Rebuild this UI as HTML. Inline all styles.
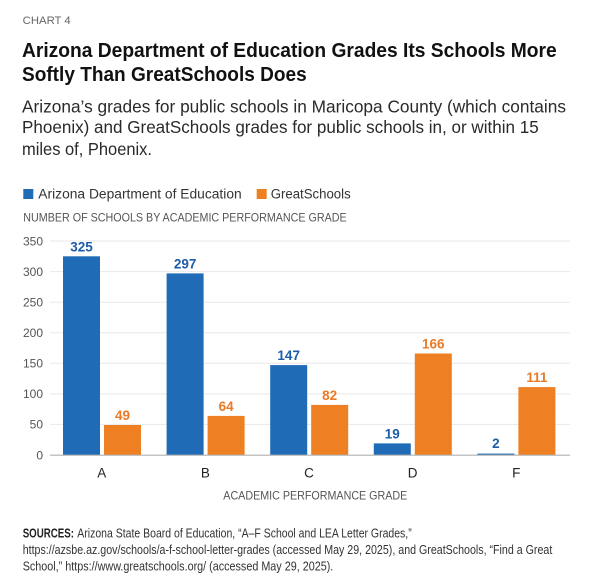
<!DOCTYPE html>
<html>
<head>
<meta charset="utf-8">
<style>
  html, body { margin: 0; padding: 0; background: #ffffff; }
  svg { display: block; }
  text { font-family: "Liberation Sans", Arial, sans-serif; }
</style>
</head>
<body>
<svg width="612" height="587" viewBox="0 0 612 587" xmlns="http://www.w3.org/2000/svg">
  <rect x="0" y="0" width="612" height="587" fill="#ffffff"/>

  <!-- Header -->
  <text x="22.7" y="24" font-size="11" fill="#666666" textLength="48" lengthAdjust="spacingAndGlyphs">CHART 4</text>
  <text x="22" y="57" font-size="20" font-weight="bold" fill="#111111" textLength="534.7" lengthAdjust="spacingAndGlyphs">Arizona Department of Education Grades Its Schools More</text>
  <text x="22" y="81" font-size="20" font-weight="bold" fill="#111111" textLength="284.7" lengthAdjust="spacingAndGlyphs">Softly Than GreatSchools Does</text>

  <text x="22" y="112.7" font-size="17.5" fill="#2a2a2a" textLength="544" lengthAdjust="spacingAndGlyphs">Arizona’s grades for public schools in Maricopa County (which contains</text>
  <text x="22" y="133" font-size="17.5" fill="#2a2a2a" textLength="516.7" lengthAdjust="spacingAndGlyphs">Phoenix) and GreatSchools grades for public schools in, or within 15</text>
  <text x="22" y="155" font-size="17.5" fill="#2a2a2a" textLength="130" lengthAdjust="spacingAndGlyphs">miles of, Phoenix.</text>

  <!-- Legend -->
  <rect x="23.3" y="189" width="10" height="10" fill="#1f6bb5"/>
  <text x="38.3" y="198.3" font-size="13.5" fill="#333333" textLength="203.4" lengthAdjust="spacingAndGlyphs">Arizona Department of Education</text>
  <rect x="256.7" y="189" width="10" height="10" fill="#ee7f23"/>
  <text x="270.7" y="198.3" font-size="13.5" fill="#333333" textLength="80" lengthAdjust="spacingAndGlyphs">GreatSchools</text>

  <text x="23.3" y="221.7" font-size="11.5" fill="#555555" textLength="323.4" lengthAdjust="spacingAndGlyphs">NUMBER OF SCHOOLS BY ACADEMIC PERFORMANCE GRADE</text>

  <!-- Gridlines -->
  <g stroke="#e8e8e8" stroke-width="1">
    <line x1="50" y1="424.4" x2="570" y2="424.4"/>
    <line x1="50" y1="393.9" x2="570" y2="393.9"/>
    <line x1="50" y1="363.3" x2="570" y2="363.3"/>
    <line x1="50" y1="332.7" x2="570" y2="332.7"/>
    <line x1="50" y1="302.2" x2="570" y2="302.2"/>
    <line x1="50" y1="271.6" x2="570" y2="271.6"/>
    <line x1="50" y1="241" x2="570" y2="241"/>
  </g>

  <!-- Y tick labels -->
  <g font-size="12" fill="#555555" text-anchor="end">
    <text x="43" y="459.3">0</text>
    <text x="43" y="428.7">50</text>
    <text x="43" y="398.2">100</text>
    <text x="43" y="367.6">150</text>
    <text x="43" y="337">200</text>
    <text x="43" y="306.5">250</text>
    <text x="43" y="275.9">300</text>
    <text x="43" y="245.3">350</text>
  </g>

  <!-- Bars: Arizona (blue) -->
  <g fill="#1f6bb5">
    <rect x="63" y="256.3" width="37" height="198.7"/>
    <rect x="166.6" y="273.4" width="37" height="181.6"/>
    <rect x="270.2" y="365.1" width="37" height="89.9"/>
    <rect x="373.8" y="443.4" width="37" height="11.6"/>
    <rect x="477.4" y="453.6" width="37" height="1.4"/>
  </g>
  <!-- Bars: GreatSchools (orange) -->
  <g fill="#ee7f23">
    <rect x="104" y="425" width="37" height="30"/>
    <rect x="207.6" y="415.9" width="37" height="39.1"/>
    <rect x="311.2" y="404.9" width="37" height="50.1"/>
    <rect x="414.8" y="353.5" width="37" height="101.5"/>
    <rect x="518.4" y="387.1" width="37" height="67.9"/>
  </g>

  <!-- Axis line -->
  <line x1="50" y1="455.2" x2="570" y2="455.2" stroke="#b0b0b0" stroke-width="1.2"/>

  <!-- Value labels -->
  <g font-size="13.5" font-weight="bold" fill="#1d5ca8" text-anchor="middle">
    <text x="81.5" y="251.5">325</text>
    <text x="185.1" y="268.5">297</text>
    <text x="288.7" y="360">147</text>
    <text x="392.3" y="438.3">19</text>
    <text x="495.9" y="448">2</text>
  </g>
  <g font-size="13.5" font-weight="bold" fill="#e97a26" text-anchor="middle">
    <text x="122.5" y="420">49</text>
    <text x="226.1" y="411">64</text>
    <text x="329.7" y="400">82</text>
    <text x="433.3" y="348.5">166</text>
    <text x="536.9" y="382">111</text>
  </g>

  <!-- Category labels -->
  <g font-size="13.5" fill="#222222" text-anchor="middle">
    <text x="101.8" y="477.3">A</text>
    <text x="205.4" y="477.3">B</text>
    <text x="309" y="477.3">C</text>
    <text x="412.6" y="477.3">D</text>
    <text x="516.2" y="477.3">F</text>
  </g>

  <text x="223.3" y="499.3" font-size="12" fill="#555555" textLength="184" lengthAdjust="spacingAndGlyphs">ACADEMIC PERFORMANCE GRADE</text>

  <!-- Sources -->
  <text x="22.7" y="537.3" font-size="12.5" font-weight="bold" fill="#222222" textLength="51.3" lengthAdjust="spacingAndGlyphs">SOURCES:</text>
  <text x="77.3" y="537.3" font-size="12.5" fill="#333333" textLength="334.4" lengthAdjust="spacingAndGlyphs">Arizona State Board of Education, “A–F School and LEA Letter Grades,”</text>
  <text x="22.7" y="554" font-size="12.5" fill="#333333" textLength="529.6" lengthAdjust="spacingAndGlyphs">https://azsbe.az.gov/schools/a-f-school-letter-grades (accessed May 29, 2025), and GreatSchools, “Find a Great</text>
  <text x="22.7" y="570.7" font-size="12.5" fill="#333333" textLength="310.6" lengthAdjust="spacingAndGlyphs">School,” https://www.greatschools.org/ (accessed May 29, 2025).</text>
</svg>
</body>
</html>
